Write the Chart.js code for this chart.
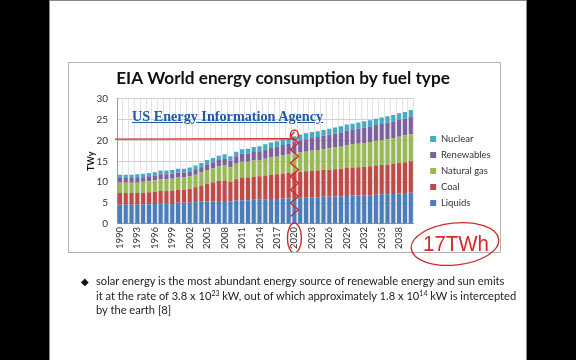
<!DOCTYPE html>
<html>
<head>
<meta charset="utf-8">
<script src="https://cdn.jsdelivr.net/npm/chart.js@4.4.0/dist/chart.umd.min.js"></script>
<style>
  html, body { margin: 0; padding: 0; background: #000; width: 576px; height: 360px; overflow: hidden; }
  #slide { position: absolute; left: 49px; top: 0; width: 476px; height: 360px; background: #fff; border: 1px solid #888; border-bottom: none; }
  #frame { position: absolute; left: 68px; top: 62px; width: 431px; height: 189px; border: 1px solid #b4b4b4; background: #fff; }
  #chart { position: absolute; left: 69px; top: 63px; }
  #agency { position: absolute; left: 132px; top: 108px; font: bold 14.2px "Liberation Serif", serif; color: #1f5aa6; text-decoration: underline; white-space: nowrap; }
  #note { position: absolute; left: 96px; top: 274px; width: 430px; font: 11.15px Lato, sans-serif; color: #222; line-height: 14.5px; }
  #note .dia { position: absolute; left: -15px; top: 0; font-size: 10px; color: #111; }
  #note sup { font-size: 7px; vertical-align: 4px; line-height: 0; }
  #ink { position: absolute; left: 0; top: 0; }
</style>
</head>
<body>
<div id="slide"></div>
<div id="frame"></div>
<canvas id="chart" width="431" height="189"></canvas>
<div id="agency">US Energy Information Agency</div>
<svg id="ink" width="576" height="360">
  <ellipse cx="455" cy="244" rx="44" ry="21" fill="none" stroke="#d42a2a" stroke-width="1.3" transform="rotate(-6 455 244)"/>
  <text x="423" y="251" font-family="Liberation Sans, sans-serif" font-size="22" fill="#d42a2a" textLength="66" lengthAdjust="spacingAndGlyphs">17TWh</text>
</svg>
<div id="note"><span class="dia">&#9670;</span>solar energy is the most abundant energy source of renewable energy and sun emits<br>it at the rate of 3.8 x 10<sup>23</sup> kW, out of which approximately 1.8 x 10<sup>14</sup> kW is intercepted<br>by the earth [8]</div>

<script>
const years = [1990, 1991, 1992, 1993, 1994, 1995, 1996, 1997, 1998, 1999,
  2000, 2001, 2002, 2003, 2004, 2005, 2006, 2007, 2008, 2009,
  2010, 2011, 2012, 2013, 2014, 2015, 2016, 2017, 2018, 2019,
  2020, 2021, 2022, 2023, 2024, 2025, 2026, 2027, 2028, 2029,
  2030, 2031, 2032, 2033, 2034, 2035, 2036, 2037, 2038, 2039, 2040];

const liquids = [4.6, 4.6, 4.6, 4.6, 4.7, 4.7, 4.8, 4.9, 4.9, 5.0,
  5.1, 5.1, 5.1, 5.2, 5.3, 5.4, 5.4, 5.5, 5.5, 5.4,
  5.6, 5.7, 5.7, 5.8, 5.8, 5.9, 6.0, 6.0, 6.1, 6.1,
  6.2, 6.3, 6.3, 6.4, 6.4, 6.5, 6.5, 6.6, 6.6, 6.7,
  6.8, 6.8, 6.9, 6.9, 7.0, 7.1, 7.1, 7.2, 7.3, 7.4, 7.5];

const coal = [2.8, 2.8, 2.8, 2.8, 2.8, 2.9, 2.9, 3.0, 3.0, 3.0,
  3.1, 3.1, 3.3, 3.6, 3.9, 4.2, 4.5, 4.8, 4.9, 4.7,
  5.1, 5.4, 5.4, 5.5, 5.6, 5.7, 5.8, 5.9, 6.0, 6.1,
  6.2, 6.2, 6.3, 6.3, 6.4, 6.4, 6.5, 6.5, 6.6, 6.7,
  6.7, 6.8, 6.8, 6.9, 7.0, 7.0, 7.1, 7.2, 7.3, 7.4, 7.5];

const naturalGas = [2.5, 2.5, 2.5, 2.5, 2.6, 2.6, 2.7, 2.8, 2.8, 2.8,
  2.9, 2.9, 3.0, 3.0, 3.1, 3.3, 3.4, 3.5, 3.6, 3.5,
  3.7, 3.8, 3.8, 3.9, 3.9, 4.0, 4.1, 4.2, 4.3, 4.4,
  4.5, 4.6, 4.7, 4.8, 4.9, 5.0, 5.1, 5.2, 5.3, 5.4,
  5.5, 5.6, 5.7, 5.8, 5.9, 6.0, 6.1, 6.2, 6.3, 6.4, 6.5];

const renewables = [1.1, 1.1, 1.1, 1.1, 1.1, 1.2, 1.2, 1.2, 1.2, 1.2,
  1.2, 1.2, 1.2, 1.3, 1.3, 1.4, 1.5, 1.5, 1.6, 1.6,
  1.8, 1.9, 1.9, 2.0, 2.1, 2.2, 2.3, 2.4, 2.5, 2.6,
  2.8, 2.9, 3.0, 3.1, 3.1, 3.2, 3.3, 3.3, 3.4, 3.5,
  3.5, 3.6, 3.7, 3.7, 3.8, 3.8, 3.9, 3.9, 4.0, 4.0, 4.2];

const nuclear = [0.8, 0.8, 0.8, 0.9, 0.8, 0.8, 0.8, 0.9, 0.9, 0.9,
  0.9, 0.9, 0.9, 0.9, 1.0, 1.0, 1.0, 1.0, 1.1, 1.0,
  1.1, 1.1, 1.2, 1.2, 1.2, 1.3, 1.3, 1.3, 1.3, 1.3,
  1.3, 1.4, 1.4, 1.4, 1.4, 1.4, 1.4, 1.5, 1.5, 1.5,
  1.5, 1.5, 1.5, 1.5, 1.5, 1.6, 1.6, 1.6, 1.6, 1.6, 1.6];

const yTicks = [0, 5, 10, 15, 20, 25, 30];
const labelEvery = 3;       // Excel shows every third year
const markedYear = 2020;    // hand-drawn marks on the slide
const markedLevel = 20.3;

// red pen marks that were drawn over the slide
const penMarks = {
  id: "penMarks",
  afterDraw(chart) {
    const { ctx, scales: { x, y } } = chart;
    const idx = years.indexOf(markedYear);
    const cx = x.getPixelForValue(idx);
    ctx.save();
    ctx.strokeStyle = "#d42a2a";
    ctx.lineWidth = 1.4;
    // horizontal line at ~20 TWy
    ctx.beginPath();
    ctx.moveTo(chart.chartArea.left - 2, y.getPixelForValue(markedLevel));
    ctx.lineTo(cx - 2, y.getPixelForValue(markedLevel + 0.1));
    ctx.stroke();
    // scribble down the 2020 bar
    ctx.beginPath();
    ctx.moveTo(cx, y.getPixelForValue(22));
    let side = -1;
    for (let v = 21; v >= 0.5; v -= 1.6) {
      ctx.lineTo(cx + side * 4, y.getPixelForValue(v));
      side = -side;
    }
    ctx.stroke();
    ctx.beginPath();
    ctx.ellipse(cx, y.getPixelForValue(21.3), 4, 5, 0, 0, Math.PI * 2);
    ctx.stroke();
    // circle round the 2020 tick label
    ctx.beginPath();
    ctx.ellipse(cx, chart.chartArea.bottom + 14, 7, 15, 0, 0, Math.PI * 2);
    ctx.stroke();
    ctx.restore();
  }
};

const ctx = document.getElementById("chart").getContext("2d");

new Chart(ctx, {
  type: "bar",
  data: {
    labels: years,
    datasets: [
      { label: "Liquids", data: liquids, backgroundColor: "#4a7ebb" },
      { label: "Coal", data: coal, backgroundColor: "#be4b48" },
      { label: "Natural gas", data: naturalGas, backgroundColor: "#98b954" },
      { label: "Renewables", data: renewables, backgroundColor: "#7d60a0" },
      { label: "Nuclear", data: nuclear, backgroundColor: "#46aac5" }
    ]
  },
  options: {
    responsive: false,
    animation: false,
    devicePixelRatio: 1,
    barPercentage: 0.72,
    categoryPercentage: 1,
    layout: { padding: { left: 3, right: 6, top: 0, bottom: 0 } },
    plugins: {
      title: {
        display: true,
        text: "EIA World energy consumption by fuel type",
        color: "#111",
        font: { family: "Lato", size: 17.2, weight: "bold" },
        padding: { top: 5, bottom: 10 }
      },
      legend: {
        position: "right",
        fullSize: false,
        reverse: true,
        title: { display: true, text: "", padding: 0, font: { size: 16 } },
        labels: {
          boxWidth: 6,
          boxHeight: 6,
          padding: 6.5,
          color: "#333",
          font: { family: "Lato", size: 9.5 }
        }
      },
      tooltip: { enabled: false }
    },
    scales: {
      x: {
        stacked: true,
        grid: { color: "#e4e4e4", offset: true, drawTicks: false },
        border: { color: "#9a9a9a" },
        ticks: {
          autoSkip: false,
          minRotation: 90,
          maxRotation: 90,
          padding: 3,
          color: "#333",
          font: { family: "Lato", size: 9.5 },
          callback: (v, i) => (i % labelEvery === 0 ? years[i] : "")
        }
      },
      y: {
        stacked: true,
        min: yTicks[0],
        max: yTicks[yTicks.length - 1],
        grid: { color: "#cfcfcf", drawTicks: false },
        border: { color: "#9a9a9a" },
        ticks: {
          stepSize: yTicks[1] - yTicks[0],
          padding: 9,
          color: "#333",
          font: { family: "Lato", size: 10 }
        },
        title: {
          display: true,
          text: "TWy",
          color: "#111",
          font: { family: "Lato", size: 9, weight: "bold" },
          padding: { top: 14, bottom: 0 }
        },
        afterFit(scale) { scale.width = 45; }
      },
      gap: {
        position: "right",
        grid: { display: false, drawTicks: false },
        border: { display: false },
        ticks: { display: false },
        afterFit(scale) { scale.width = 10; }
      }
    }
  },
  plugins: [penMarks]
});
</script>
</body>
</html>
